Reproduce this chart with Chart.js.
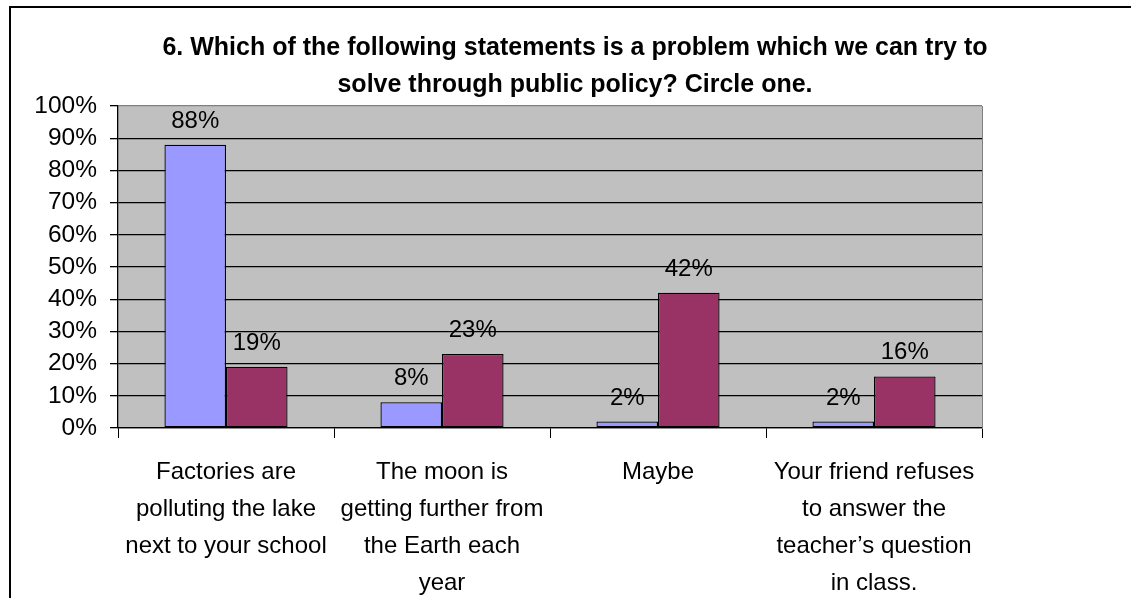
<!DOCTYPE html>
<html>
<head>
<meta charset="utf-8">
<script src="https://cdn.jsdelivr.net/npm/chart.js@4/dist/chart.umd.min.js"></script>
<style>
  html, body { margin: 0; padding: 0; background: #ffffff; }
  #wrap { width: 1131px; height: 598px; position: relative; }
</style>
</head>
<body>
<div id="wrap"><canvas id="c" width="1131" height="598"></canvas></div>
<script>
const titleLines = [
  "6. Which of the following statements is a problem which we can try to",
  "solve through public policy? Circle one."
];
const categories = [
  ["Factories are", "polluting the lake", "next to your school"],
  ["The moon is", "getting further from", "the Earth each", "year"],
  ["Maybe"],
  ["Your friend refuses", "to answer the", "teacher\u2019s question", "in class."]
];
const seriesA = [88, 8, 2, 2];
const seriesB = [19, 23, 42, 16];
const yTicks = [0, 10, 20, 30, 40, 50, 60, 70, 80, 90, 100];

const FONT = "'Liberation Sans', Arial, sans-serif";

const plotBg = {
  id: 'plotBg',
  beforeDraw(chart) {
    const {ctx, chartArea: a} = chart;
    ctx.save();
    ctx.fillStyle = '#C0C0C0';
    ctx.fillRect(a.left, a.top, a.right - a.left, a.bottom - a.top);
    ctx.restore();
  },
  afterDraw(chart) {
    const ctx = chart.ctx;
    ctx.save();
    ctx.strokeStyle = '#000000';
    ctx.lineWidth = 2;
    ctx.beginPath();
    ctx.moveTo(10, 598);
    ctx.lineTo(10, 7);
    ctx.lineTo(1131, 7);
    ctx.stroke();
    ctx.restore();
  }
};

const valueLabels = {
  id: 'valueLabels',
  afterDatasetsDraw(chart) {
    const ctx = chart.ctx;
    ctx.save();
    ctx.font = '24px ' + FONT;
    ctx.fillStyle = '#000000';
    ctx.textAlign = 'center';
    ctx.textBaseline = 'alphabetic';
    chart.data.datasets.forEach((ds, i) => {
      const meta = chart.getDatasetMeta(i);
      meta.data.forEach((el, j) => {
        ctx.fillText(ds.data[j] + '%', el.x, el.y - 17);
      });
    });
    ctx.restore();
  }
};

new Chart(document.getElementById('c'), {
  type: 'bar',
  data: {
    labels: categories,
    datasets: [
      { label: 'A', data: seriesA, backgroundColor: '#9999FF', borderColor: '#000000', borderWidth: 1.3, borderSkipped: false, yAxisID: 'y' },
      { label: 'B', data: seriesB, backgroundColor: '#993366', borderColor: '#000000', borderWidth: 1.3, borderSkipped: false, yAxisID: 'y' }
    ]
  },
  options: {
    responsive: false,
    animation: false,
    devicePixelRatio: 1,
    layout: { padding: { left: 19, right: 0, top: 0, bottom: 0 } },
    datasets: { bar: { categoryPercentage: 0.57, barPercentage: 1.0 } },
    plugins: {
      legend: { display: false },
      tooltip: { enabled: false },
      title: {
        display: true,
        text: titleLines,
        color: '#000000',
        font: { family: FONT, size: 25, weight: 'bold', lineHeight: '37px' },
        padding: { top: 29.5, bottom: 2.5 }
      }
    },
    scales: {
      x: {
        grid: { display: true, drawOnChartArea: false, offset: true, color: '#000000', tickLength: 10, tickColor: '#000000' },
        border: { display: true, color: '#000000', width: 1.3 },
        ticks: { color: '#000000', font: { family: FONT, size: 24, lineHeight: '37px' }, padding: 16, maxRotation: 0, autoSkip: false },
        afterFit(s) { s.height = 170; }
      },
      y: {
        min: 0, max: 100,
        afterBuildTicks(s) { s.ticks = yTicks.map(v => ({ value: v })); },
        grid: {
          color: (c) => (c.tick && c.tick.value === 100) ? '#808080' : '#000000',
          lineWidth: 1.3,
          tickLength: 8,
          tickColor: '#000000'
        },
        border: { display: true, color: '#000000', width: 1.3 },
        ticks: { color: '#000000', font: { family: FONT, size: 24.5 }, padding: 13, autoSkip: false, callback: (v) => v + '%' },
        afterFit(s) { s.width = 99; }
      },
      y2: {
        position: 'right',
        min: 0, max: 100,
        grid: { display: false, drawOnChartArea: false, drawTicks: false },
        border: { display: true, color: '#808080', width: 1 },
        ticks: { display: false },
        afterFit(s) { s.width = 149; }
      }
    }
  },
  plugins: [plotBg, valueLabels]
});
</script>
</body>
</html>
